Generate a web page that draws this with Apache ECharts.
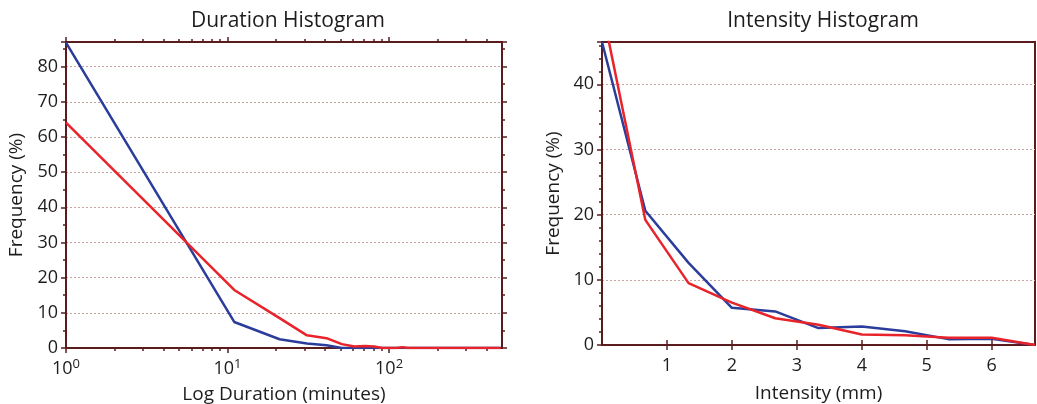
<!DOCTYPE html>
<html>
<head>
<meta charset="utf-8">
<script src="https://cdn.jsdelivr.net/npm/echarts@6/dist/echarts.min.js"></script>
<style>
  html, body { margin: 0; padding: 0; background: #fff; }
  #chart { width: 1037px; height: 404px; }
</style>
</head>
<body>
<div id="chart"></div>
<script>
// duration histogram (log x axis, minutes)
const durationBins = [1, 11, 21, 31, 41, 51, 61, 71, 81, 91, 101, 111, 121, 131, 491];
const durationObs  = [86.8, 7.4, 2.5, 1.3, 0.8, 0, 0, 0, 0, 0, 0, 0, 0, 0, 0];
const durationSim  = [64.1, 16.5, 8.5, 3.6, 2.8, 1.1, 0.4, 0.6, 0.4, 0, 0, 0, 0.25, 0, 0];
const durationMajorTicks = [1, 10, 100];
const durationMinorTicks = [2, 3, 4, 5, 6, 7, 8, 9, 20, 30, 40, 50, 60, 70, 80, 90, 200, 300, 400];

// intensity histogram (mm)
const intensityBins = [0, 0.667, 1.333, 2, 2.667, 3.333, 4, 4.667, 5.333, 6, 6.667];
const intensityObs  = [46.5, 20.6, 12.6, 5.7, 5.15, 2.6, 2.85, 2.1, 0.9, 0.95, 0];
const intensitySim  = [51.7, 19.2, 9.5, 6.5, 4.1, 3.1, 1.6, 1.5, 1.1, 1.1, 0];

const OBS_COLOR = "#2b3d9b";
const SIM_COLOR = "#e8232a";
const FRAME = "#5a1c1c";
const TEXT = "#1f1c1d";
const FONT = "Open Sans";

const zip = (xs, ys) => xs.map((x, i) => [x, ys[i]]);

const tickStyle = { color: FRAME, width: 1.5 };
const frameLine = { show: true, lineStyle: { color: FRAME, width: 2 } };
const gridLine = { show: true, showMaxLine: false, showMinLine: false,
                   lineStyle: { color: "#c9a2a2", width: 1, type: [2, 2] } };
const label = { color: TEXT, fontFamily: FONT, fontSize: 18 };
const axisName = { color: TEXT, fontFamily: FONT, fontSize: 19 };

// frame side with ticks only (mirrored and minor tick axes)
function tickAxis(extra) {
  return Object.assign({
    z: 3,
    axisLine: frameLine,
    axisLabel: { show: false },
    splitLine: { show: false },
    axisTick: { show: true, lineStyle: tickStyle, length: 4 }
  }, extra);
}

const logX = { type: "log", logBase: 10, min: 1, max: 500, gridIndex: 0 };
const intX = { type: "value", min: 0, max: 6.667, interval: 1, gridIndex: 1 };
const titleStyle = { fontFamily: FONT, fontSize: 21, fontWeight: "normal", color: TEXT };

const option = {
  animation: false,
  title: [
    { text: "Duration Histogram", left: 283, top: 6, textAlign: "center", textStyle: titleStyle },
    { text: "Intensity Histogram", left: 818, top: 6, textAlign: "center", textStyle: titleStyle }
  ],
  grid: [
    { left: 66, top: 42, width: 436, height: 306, outerBoundsMode: "none",
      show: true, borderColor: FRAME, borderWidth: 2 },
    { left: 602, top: 42, width: 433, height: 303, outerBoundsMode: "none",
      show: true, borderColor: FRAME, borderWidth: 2 }
  ],
  xAxis: [
    Object.assign({}, logX, {
      position: "bottom", z: 3,
      name: "Log Duration (minutes)", nameLocation: "middle", nameGap: 37, nameTextStyle: axisName,
      axisLine: frameLine,
      axisTick: { show: true, length: 5, lineStyle: tickStyle, customValues: durationMajorTicks },
      splitLine: { show: false },
      axisLabel: Object.assign({}, label, {
        margin: 10,
        customValues: durationMajorTicks,
        formatter: v => "10{sup|" + Math.round(Math.log10(v)) + "}",
        rich: { sup: { fontFamily: FONT, fontSize: 13, color: TEXT, padding: [0, 0, 9, 0] } }
      })
    }),
    tickAxis(Object.assign({}, logX, { position: "bottom",
      axisTick: { show: true, length: 3, lineStyle: tickStyle, customValues: durationMinorTicks } })),
    tickAxis(Object.assign({}, logX, { position: "top",
      axisTick: { show: true, length: 5, lineStyle: tickStyle, customValues: durationMajorTicks } })),
    tickAxis(Object.assign({}, logX, { position: "top",
      axisTick: { show: true, length: 3, lineStyle: tickStyle, customValues: durationMinorTicks } })),
    Object.assign({}, intX, {
      position: "bottom", z: 3,
      name: "Intensity (mm)", nameLocation: "middle", nameGap: 39, nameTextStyle: axisName,
      axisLine: frameLine,
      axisTick: { show: true, length: 5, lineStyle: tickStyle },
      splitLine: { show: false },
      axisLabel: Object.assign({}, label, { margin: 12, showMinLabel: false, showMaxLabel: false })
    }),
    tickAxis(Object.assign({}, intX, { position: "top",
      axisTick: { show: true, length: 5, lineStyle: tickStyle } }))
  ],
  yAxis: [
    {
      type: "value", gridIndex: 0, min: 0, max: 87, interval: 10, position: "left", z: 3,
      name: "Frequency (%)", nameLocation: "middle", nameGap: 40, nameTextStyle: axisName,
      axisLine: frameLine,
      axisTick: { show: true, length: 5, lineStyle: tickStyle },
      minorTick: { show: true, splitNumber: 2, length: 3, lineStyle: tickStyle },
      splitLine: gridLine,
      axisLabel: Object.assign({}, label, { margin: 8, showMaxLabel: false })
    },
    tickAxis({
      type: "value", gridIndex: 0, min: 0, max: 87, interval: 10, position: "right",
      axisTick: { show: true, length: 5, lineStyle: tickStyle },
      minorTick: { show: true, splitNumber: 2, length: 3, lineStyle: tickStyle }
    }),
    {
      type: "value", gridIndex: 1, min: 0, max: 46.5, interval: 10, position: "left", z: 3,
      name: "Frequency (%)", nameLocation: "middle", nameGap: 39, nameTextStyle: axisName,
      axisLine: frameLine,
      axisTick: { show: true, length: 5, lineStyle: tickStyle },
      minorTick: { show: true, splitNumber: 5, length: 3, lineStyle: tickStyle },
      splitLine: gridLine,
      axisLabel: Object.assign({}, label, { margin: 8, showMaxLabel: false })
    },
    tickAxis({
      type: "value", gridIndex: 1, min: 0, max: 46.5, position: "right",
      axisTick: { show: false }
    })
  ],
  series: [
    { type: "line", xAxisIndex: 0, yAxisIndex: 0, data: zip(durationBins, durationObs),
      showSymbol: false, lineStyle: { color: OBS_COLOR, width: 2.5 }, itemStyle: { color: OBS_COLOR } },
    { type: "line", xAxisIndex: 0, yAxisIndex: 0, data: zip(durationBins, durationSim),
      showSymbol: false, lineStyle: { color: SIM_COLOR, width: 2.5 }, itemStyle: { color: SIM_COLOR } },
    { type: "line", xAxisIndex: 4, yAxisIndex: 2, data: zip(intensityBins, intensityObs),
      showSymbol: false, lineStyle: { color: OBS_COLOR, width: 2.5 }, itemStyle: { color: OBS_COLOR } },
    { type: "line", xAxisIndex: 4, yAxisIndex: 2, data: zip(intensityBins, intensitySim),
      showSymbol: false, lineStyle: { color: SIM_COLOR, width: 2.5 }, itemStyle: { color: SIM_COLOR } }
  ]
};

const chart = echarts.init(document.getElementById("chart"));
chart.setOption(option);
</script>
</body>
</html>
